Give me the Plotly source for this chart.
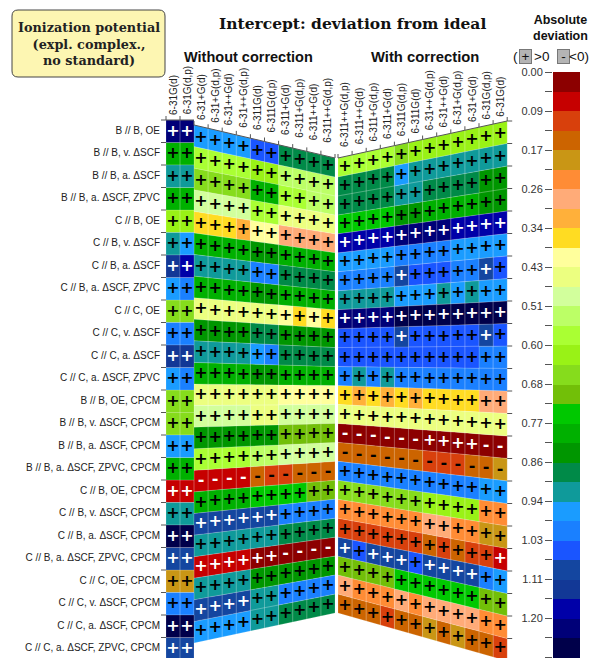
import plotly.graph_objects as go

# ---------------- data ----------------
row_labels = [
    "B // B, OE", "B // B, v. ΔSCF", "B // B, a. ΔSCF", "B // B, a. ΔSCF, ZPVC",
    "C // B, OE", "C // B, v. ΔSCF", "C // B, a. ΔSCF", "C // B, a. ΔSCF, ZPVC",
    "C // C, OE", "C // C, v. ΔSCF", "C // C, a. ΔSCF", "C // C, a. ΔSCF, ZPVC",
    "B // B, OE, CPCM", "B // B, v. ΔSCF, CPCM", "B // B, a. ΔSCF, CPCM", "B // B, a. ΔSCF, ZPVC, CPCM",
    "C // B, OE, CPCM", "C // B, v. ΔSCF, CPCM", "C // B, a. ΔSCF, CPCM", "C // B, a. ΔSCF, ZPVC, CPCM",
    "C // C, OE, CPCM", "C // C, v. ΔSCF, CPCM", "C // C, a. ΔSCF, CPCM", "C // C, a. ΔSCF, ZPVC, CPCM",
]
left_cols = ["6-31G(d)", "6-31G(d,p)", "6-31+G(d)", "6-31+G(d,p)", "6-31++G(d)", "6-31++G(d,p)",
             "6-311G(d)", "6-311G(d,p)", "6-311+G(d)", "6-311+G(d,p)", "6-311++G(d)", "6-311++G(d,p)"]
right_cols = ["6-311++G(d,p)", "6-311++G(d)", "6-311+G(d,p)", "6-311+G(d)", "6-311G(d,p)", "6-311G(d)",
              "6-31++G(d,p)", "6-31++G(d)", "6-31+G(d,p)", "6-31+G(d)", "6-31G(d,p)", "6-31G(d)"]

# signed deviation (sign shown as +/-, colour by absolute value)
left_vals = [
    [1.22, 1.22, 0.96, 0.96, 0.96, 0.96, 1.05, 1.05, 0.88, 0.88, 0.88, 0.88],
    [0.79, 0.79, 0.58, 0.58, 0.58, 0.58, 0.62, 0.62, 0.53, 0.53, 0.53, 0.53],
    [0.92, 0.92, 0.66, 0.66, 0.66, 0.66, 0.79, 0.79, 0.58, 0.58, 0.53, 0.53],
    [0.79, 0.79, 0.49, 0.49, 0.49, 0.49, 0.58, 0.58, 0.45, 0.45, 0.45, 0.45],
    [0.62, 0.62, 0.36, 0.36, 0.36, 0.32, 0.41, 0.41, 0.28, 0.28, 0.28, 0.28],
    [0.92, 0.96, 0.79, 0.79, 0.79, 0.79, 0.83, 0.83, 0.79, 0.79, 0.79, 0.79],
    [1.13, 1.18, 0.92, 0.92, 0.92, 0.92, 1.00, 1.00, 0.88, 0.88, 0.88, 0.88],
    [0.96, 1.00, 0.79, 0.79, 0.79, 0.79, 0.83, 0.83, 0.79, 0.79, 0.79, 0.79],
    [0.66, 0.66, 0.45, 0.45, 0.45, 0.45, 0.45, 0.45, 0.41, 0.36, 0.41, 0.36],
    [1.00, 1.00, 0.83, 0.83, 0.83, 0.83, 0.88, 0.88, 0.83, 0.83, 0.83, 0.83],
    [1.13, 1.13, 0.92, 0.92, 0.92, 0.92, 0.96, 1.00, 0.88, 0.88, 0.88, 0.88],
    [0.96, 1.00, 0.79, 0.79, 0.79, 0.79, 0.83, 0.83, 0.79, 0.79, 0.79, 0.79],
    [0.66, 0.66, 0.45, 0.45, 0.45, 0.45, 0.45, 0.45, 0.41, 0.41, 0.41, 0.41],
    [0.66, 0.66, 0.49, 0.49, 0.49, 0.49, 0.45, 0.45, 0.49, 0.49, 0.49, 0.49],
    [0.96, 0.96, 0.83, 0.83, 0.83, 0.83, 0.83, 0.83, 0.71, 0.71, 0.71, 0.71],
    [0.79, 0.79, 0.58, 0.58, 0.58, 0.58, 0.53, 0.53, 0.49, 0.49, 0.49, 0.49],
    [0.06, 0.06, -0.06, -0.06, -0.06, -0.06, -0.15, -0.11, -0.11, -0.15, -0.15, -0.15],
    [0.92, 0.92, 0.79, 0.79, 0.79, 0.79, 0.75, 0.75, 0.75, 0.75, 0.71, 0.71],
    [1.26, 1.26, 1.09, 1.09, 1.09, 1.09, 1.09, 1.09, 1.00, 1.00, 1.00, 1.00],
    [1.09, 1.09, 0.92, 0.92, 0.92, 0.92, 0.92, 0.92, 0.88, 0.88, 0.88, 0.88],
    [0.19, 0.19, 0.06, 0.06, 0.06, 0.06, 0.02, 0.02, -0.02, -0.02, -0.02, -0.02],
    [1.00, 1.00, 0.92, 0.92, 0.92, 0.92, 0.83, 0.83, 0.83, 0.83, 0.83, 0.83],
    [1.26, 1.26, 1.09, 1.09, 1.09, 1.09, 0.92, 0.92, 1.00, 1.00, 1.00, 1.00],
    [1.09, 1.09, 0.96, 0.96, 0.96, 0.96, 0.92, 0.92, 0.88, 0.88, 0.88, 0.88],
]
right_vals = [
    [0.58, 0.58, 0.58, 0.58, 0.66, 0.62, 0.62, 0.62, 0.62, 0.62, 0.62, 0.62],
    [0.88, 0.88, 0.88, 0.88, 0.96, 0.92, 0.92, 0.92, 0.92, 0.92, 0.92, 0.92],
    [0.88, 0.88, 0.88, 0.88, 0.92, 0.92, 0.88, 0.88, 0.88, 0.88, 0.83, 0.83],
    [0.75, 0.75, 0.75, 0.75, 0.83, 0.83, 0.79, 0.79, 0.79, 0.79, 0.83, 0.83],
    [1.18, 1.18, 1.18, 1.18, 1.22, 1.22, 1.22, 1.22, 1.18, 1.18, 1.18, 1.18],
    [0.96, 0.96, 0.96, 0.96, 1.00, 1.00, 1.00, 1.00, 0.96, 0.96, 0.96, 0.96],
    [1.00, 1.00, 1.00, 1.00, 1.09, 1.05, 1.05, 1.05, 1.00, 1.00, 1.09, 1.05],
    [0.92, 0.92, 0.92, 0.92, 0.96, 0.96, 0.96, 0.92, 0.96, 0.92, 0.96, 0.96],
    [1.22, 1.22, 1.22, 1.22, 1.26, 1.26, 1.26, 1.26, 1.26, 1.26, 1.26, 1.26],
    [1.05, 1.05, 1.05, 1.05, 1.09, 1.05, 1.05, 1.05, 1.05, 1.05, 1.09, 1.05],
    [1.05, 1.05, 1.05, 1.05, 1.05, 1.05, 1.05, 1.05, 1.05, 1.05, 1.00, 1.00],
    [1.00, 0.92, 1.00, 0.92, 1.00, 1.00, 1.00, 1.00, 1.00, 1.00, 1.00, 1.00],
    [0.36, 0.32, 0.36, 0.32, 0.36, 0.32, 0.36, 0.36, 0.36, 0.36, 0.28, 0.28],
    [0.45, 0.45, 0.45, 0.45, 0.45, 0.45, 0.45, 0.45, 0.45, 0.45, 0.45, 0.45],
    [-0.02, -0.02, -0.02, -0.02, -0.02, -0.02, 0.02, 0.02, 0.02, 0.02, -0.02, -0.02],
    [-0.15, -0.15, -0.15, -0.15, -0.15, -0.15, -0.11, -0.11, -0.11, -0.15, -0.15, -0.19],
    [1.00, 1.00, 1.00, 1.00, 1.00, 1.00, 1.00, 1.00, 1.00, 1.00, 0.96, 0.96],
    [0.66, 0.66, 0.66, 0.66, 0.66, 0.66, 0.62, 0.62, 0.62, 0.62, 0.24, 0.24],
    [0.24, 0.24, 0.24, 0.24, 0.24, 0.24, 0.28, 0.28, 0.24, 0.24, 0.19, 0.19],
    [0.11, 0.11, 0.11, 0.11, 0.11, 0.11, 0.15, 0.11, 0.15, 0.11, 0.11, 0.06],
    [1.09, 1.05, 1.09, 1.09, 1.09, 1.05, 1.09, 1.09, 1.09, 1.09, 1.00, 0.96],
    [0.71, 0.71, 0.71, 0.71, 0.75, 0.75, 0.75, 0.75, 0.75, 0.75, 0.71, 0.71],
    [0.28, 0.24, 0.24, 0.24, 0.28, 0.24, 0.28, 0.28, 0.28, 0.28, 0.24, 0.24],
    [0.15, 0.15, 0.15, 0.11, 0.15, 0.15, 0.19, 0.15, 0.19, 0.15, 0.15, 0.11],
]

cbar_ticktext = ["0.00", "0.09", "0.17", "0.26", "0.34", "0.43", "0.51", "0.60",
                 "0.68", "0.77", "0.86", "0.94", "1.03", "1.11", "1.20", "1.28"]
cbar_step = 0.0855          # spacing of labelled ticks
n_bins = 30                 # two colour bins per labelled interval

palette = [
    "#8c0000", "#c60000", "#d8400c", "#cc6400", "#c99615", "#ff8c35", "#ffab78", "#ffb03a",
    "#ffdc22", "#ffff9c", "#ecff80", "#d2ff9c", "#bcff66", "#aaff33", "#99f216", "#86dc1c",
    "#72bf08", "#00c800", "#00b000", "#009600", "#008a48", "#0f9a9a", "#1a9cff", "#1a80ff",
    "#1a55ff", "#1446a0", "#123896", "#0000a8", "#000078", "#00004a",
]

# ---------------- geometry (page-pixel data space) ----------------
OFF = 8                                  # default page body margin
FIG_W, FIG_H = 583, 650
NR = len(row_labels)
bin_w = cbar_step / 2


def bin_of(v):
    return min(n_bins - 1, int(abs(v) / bin_w))


def left_edges(c):
    if c < 2:
        xa = 166 + 14 * c
        xb = xa + 14
        top = lambda x: 120.0
        bot = lambda x: 660.0
    else:
        xa = 194 + 14.1 * (c - 2)
        xb = xa + 14.1
        top = lambda x: 125 + 33 * (x - 194) / 141
        bot = lambda x: 643 - 30 * (x - 194) / 141
    return xa, xb, top, bot


def right_edges(c):
    xa = 338 + 14.1 * c
    xb = xa + 14.1
    top = lambda x: 158 - 37 * (x - 338) / 169.2
    bot = lambda x: 613 + 48 * (x - 338) / 169.2
    return xa, xb, top, bot


def cell_poly(edges, c, r):
    xa, xb, top, bot = edges(c)
    ya0 = top(xa) + (bot(xa) - top(xa)) * r / NR
    ya1 = top(xa) + (bot(xa) - top(xa)) * (r + 1) / NR
    yb0 = top(xb) + (bot(xb) - top(xb)) * r / NR
    yb1 = top(xb) + (bot(xb) - top(xb)) * (r + 1) / NR
    xs = [xa, xb, xb, xa, xa]
    ys = [ya0, yb0, yb1, ya1, ya0]
    cx = (xa + xb) / 2
    cy = (ya0 + ya1 + yb0 + yb1) / 4
    return xs, ys, cx, cy


fig = go.Figure()

poly_x = {b: [] for b in range(n_bins)}
poly_y = {b: [] for b in range(n_bins)}
txt = {"white": ([], [], []), "black": ([], [], [])}

for vals, edges in ((left_vals, left_edges), (right_vals, right_edges)):
    for r in range(NR):
        for c in range(12):
            v = vals[r][c]
            b = bin_of(v)
            xs, ys, cx, cy = cell_poly(edges, c, r)
            poly_x[b] += xs + [None]
            poly_y[b] += ys + [None]
            col = "white" if (b <= 1 or b >= 25) else "black"
            txt[col][0].append(cx)
            txt[col][1].append(cy + 0.5)
            txt[col][2].append("+" if v >= 0 else "-")

for b in range(n_bins):
    if poly_x[b]:
        fig.add_trace(go.Scatter(
            x=poly_x[b], y=poly_y[b], mode="lines", fill="toself",
            fillcolor=palette[b], line=dict(color="rgba(255,255,255,0.28)", width=0.6),
            hoverinfo="skip", showlegend=False, xaxis="x", yaxis="y"))

for col, (xs, ys, ts) in txt.items():
    fig.add_trace(go.Scatter(
        x=xs, y=ys, text=ts, mode="text", textposition="middle center",
        textfont=dict(family="DejaVu Sans", size=16, color=col, weight="bold"),
        hoverinfo="skip", showlegend=False, xaxis="x", yaxis="y"))

# axis ticks along panel edges
tx, ty = [], []
for k in range(NR + 1):
    y = 120 + 22.5 * k
    tx += [161, 166, None]
    ty += [y, y, None]
rt = right_edges(11)
xr = rt[1]
for k in range(NR + 1):
    y = rt[2](xr) + (rt[3](xr) - rt[2](xr)) * k / NR
    tx += [xr, xr + 5, None]
    ty += [y, y, None]
for edges in (left_edges, right_edges):
    for c in range(12):
        xa, xb, top, bot = edges(c)
        tx += [xa, xb, None, xa, xa, None]
        ty += [top(xa), top(xb), None, top(xa), top(xa) - 4, None]
    xa, xb, top, bot = edges(11)
    tx += [xb, xb, None]
    ty += [top(xb), top(xb) - 4, None]
fig.add_trace(go.Scatter(x=tx, y=ty, mode="lines", line=dict(color="#555555", width=1),
                         hoverinfo="skip", showlegend=False, xaxis="x", yaxis="y"))

# row labels
fig.add_trace(go.Scatter(
    x=[160] * NR, y=[120 + 22.5 * (r + 0.5) for r in range(NR)], text=row_labels,
    mode="text", textposition="middle left",
    textfont=dict(family="Liberation Sans", size=10, color="#222222"),
    hoverinfo="skip", showlegend=False, xaxis="x", yaxis="y"))

annotations = []
for labels, edges, g0, g1 in ((left_cols, left_edges, 3, 12), (right_cols, right_edges, 7, 4)):
    for c, lab in enumerate(labels):
        xa, xb, top, bot = edges(c)
        cx = (xa + xb) / 2
        gap = g0 + (g1 - g0) * c / 11
        annotations.append(dict(x=cx, y=top(cx) - gap, xref="x", yref="y", text=lab,
                                textangle=-90, xanchor="center", yanchor="bottom",
                                showarrow=False, font=dict(family="Liberation Sans", size=10, color="#222")))

annotations += [
    dict(x=352, y=23, xref="x", yref="y", text="<b>Intercept: deviation from ideal</b>", showarrow=False,
         font=dict(family="DejaVu Serif", size=15.5, color="#111")),
    dict(x=248, y=57, xref="x", yref="y", text="<b>Without correction</b>", showarrow=False,
         font=dict(family="Liberation Sans", size=14.5, color="#111")),
    dict(x=425, y=57, xref="x", yref="y", text="<b>With correction</b>", showarrow=False,
         font=dict(family="Liberation Sans", size=14.8, color="#111")),
    dict(x=88.5, y=44, xref="x", yref="y", text="<b>Ionization potential<br>(expl. complex.,<br>no standard)</b>",
         showarrow=False, align="center", font=dict(family="DejaVu Serif", size=12.8, color="#222")),
    dict(x=560, y=28, xref="x", yref="y", text="<b>Absolute<br>deviation</b>", showarrow=False,
         font=dict(family="Liberation Sans", size=12.5, color="#111")),
    dict(x=515, y=56, xref="x", yref="y", text="(", showarrow=False,
         font=dict(family="Liberation Sans", size=13.5, color="#111")),
    dict(x=525, y=56, xref="x", yref="y", text="+", showarrow=False, bgcolor="#b4b4b4",
         bordercolor="#777", borderwidth=1, borderpad=0, width=11, height=13,
         font=dict(family="Liberation Sans", size=13.5, color="#111")),
    dict(x=541, y=56, xref="x", yref="y", text="&gt;0", showarrow=False,
         font=dict(family="Liberation Sans", size=13.5, color="#111")),
    dict(x=563, y=56, xref="x", yref="y", text="-", showarrow=False, bgcolor="#b4b4b4",
         bordercolor="#777", borderwidth=1, borderpad=0, width=11, height=13,
         font=dict(family="Liberation Sans", size=13.5, color="#111")),
    dict(x=579, y=56, xref="x", yref="y", text="&lt;0)", showarrow=False,
         font=dict(family="Liberation Sans", size=13.5, color="#111")),
]

# colour bar as a heatmap on its own axes (0.00 at page y=72, 1.2825 at page y=657.5)
cb_top, cb_bot = 72, 657.5
vis_bot = OFF + FIG_H
cb_range_bot = n_bins * bin_w * (vis_bot - cb_top) / (cb_bot - cb_top)
centers = [(i + 0.5) * bin_w for i in range(n_bins)]
cscale = []
for i, c in enumerate(palette):
    cscale += [[i / n_bins, c], [(i + 1) / n_bins, c]]
fig.add_trace(go.Heatmap(x=[0], y=centers, z=[[i] for i in range(n_bins)], colorscale=cscale,
                         zmin=-0.5, zmax=n_bins - 0.5, showscale=False, hoverinfo="skip",
                         xaxis="x2", yaxis="y2"))

fig.update_layout(
    width=FIG_W, height=FIG_H, margin=dict(l=0, r=0, t=0, b=0, autoexpand=False),
    paper_bgcolor="white", plot_bgcolor="rgba(0,0,0,0)",
    xaxis=dict(range=[OFF, OFF + FIG_W], visible=False, domain=[0, 1], fixedrange=True, automargin=False),
    yaxis=dict(range=[OFF + FIG_H, OFF], visible=False, domain=[0, 1], fixedrange=True, automargin=False),
    xaxis2=dict(domain=[(553 - OFF) / FIG_W, (580 - OFF) / FIG_W], anchor="y2", visible=False,
                range=[-0.5, 0.5], automargin=False),
    yaxis2=dict(domain=[0, 1 - (cb_top - OFF) / FIG_H], anchor="x2", range=[cb_range_bot, 0],
                tickvals=[i * cbar_step for i in range(len(cbar_ticktext))], ticktext=cbar_ticktext,
                ticks="outside", ticklen=7, tickcolor="#555", side="left", showgrid=False,
                zeroline=False, showline=False, automargin=False,
                tickfont=dict(family="Liberation Sans", size=11, color="#333"),
                minor=dict(tickvals=[(i + 0.5) * cbar_step for i in range(len(cbar_ticktext))],
                           ticks="outside", ticklen=7, tickcolor="#555", showgrid=False)),
    shapes=[dict(type="path", xref="x", yref="y",
                 path="M 18,10 L 159,10 Q 165,10 165,16 L 165,71 Q 165,77 159,77 L 18,77 Q 12,77 12,71 L 12,16 Q 12,10 18,10 Z",
                 fillcolor="#fdf6b2", line=dict(color="#444", width=1), layer="below")],
    annotations=annotations,
)

fig.write_html("out.html")
